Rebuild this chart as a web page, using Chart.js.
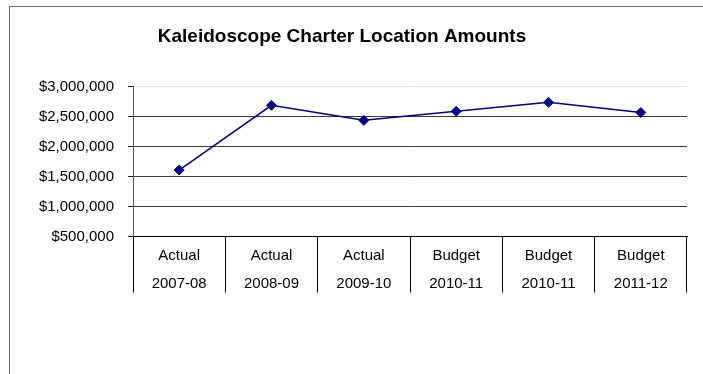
<!DOCTYPE html>
<html>
<head>
<meta charset="utf-8">
<script src="https://cdn.jsdelivr.net/npm/chart.js@4"></script>
<style>
  html, body { margin: 0; padding: 0; background: #fff; overflow: hidden; }
  body { width: 703px; height: 374px; position: relative; }
  #frame { position: absolute; left: 9px; top: 6px; width: 720px; height: 400px;
           border-left: 1px solid #6e6e6e; border-top: 1px solid #6e6e6e; }
  #wrap { position: absolute; left: -9px; top: 0; width: 702px; height: 374px; }
</style>
</head>
<body>
<div id="frame"></div>
<div id="wrap"><canvas id="graf"></canvas></div>
<script>
// kategorie - dva radky popisku
const druhy = ['Actual', 'Actual', 'Actual', 'Budget', 'Budget', 'Budget'];
const roky = ['2007-08', '2008-09', '2009-10', '2010-11', '2010-11', '2011-12'];
const castky = [1610000, 2690000, 2440000, 2590000, 2740000, 2570000];
const osaY = { min: 500000, max: 3000000, krok: 500000 };

const popisky = druhy.map((d, i) => [d, roky[i]]);
const pismo = "'Liberation Sans', Arial, sans-serif";

const ctx = document.getElementById('graf').getContext('2d');
new Chart(ctx, {
  type: 'line',
  data: {
    labels: popisky,
    datasets: [{
      label: 'Amounts',
      data: castky,
      borderColor: '#000080',
      backgroundColor: '#000080',
      borderWidth: 1.5,
      pointStyle: 'rectRot',
      pointRadius: 5,
      pointBorderWidth: 1,
      pointBackgroundColor: '#000080',
      pointBorderColor: '#000080',
      tension: 0,
      fill: false
    }]
  },
  options: {
    responsive: true,
    maintainAspectRatio: false,
    animation: false,
    layout: { padding: { left: 0, right: 0, top: 0, bottom: 0 } },
    plugins: {
      legend: { display: false },
      tooltip: { enabled: false },
      title: {
        display: true,
        text: 'Kaleidoscope Charter Location Amounts',
        color: '#000',
        font: { family: pismo, size: 19, weight: 'bold', lineHeight: 1.2 },
        padding: { top: 25, bottom: 39 }
      }
    },
    scales: {
      x: {
        type: 'category',
        offset: true,
        afterFit: s => { s.height = 137.5; },
        grid: {
          offset: true,
          drawOnChartArea: false,
          drawTicks: true,
          tickLength: 56,
          color: '#000',
          lineWidth: 1
        },
        border: { display: true, color: '#000', width: 1 },
        ticks: {
          color: '#000',
          font: { family: pismo, size: 15, lineHeight: 1.9 },
          padding: -51,
          maxRotation: 0,
          autoSkip: false
        }
      },
      y: {
        min: osaY.min,
        max: osaY.max,
        afterFit: s => { s.width = 142; },
        grid: {
          color: c => (c.tick && c.tick.value === osaY.max) ? '#e6e6e6' : '#3a3a3a',
          tickColor: '#222',
          tickLength: 5,
          lineWidth: 1
        },
        border: { display: true, color: '#555', width: 1 },
        ticks: {
          stepSize: osaY.krok,
          color: '#000',
          padding: 14,
          font: { family: pismo, size: 15 },
          callback: v => '$' + v.toLocaleString('en-US')
        }
      }
    }
  }
});
</script>
</body>
</html>
